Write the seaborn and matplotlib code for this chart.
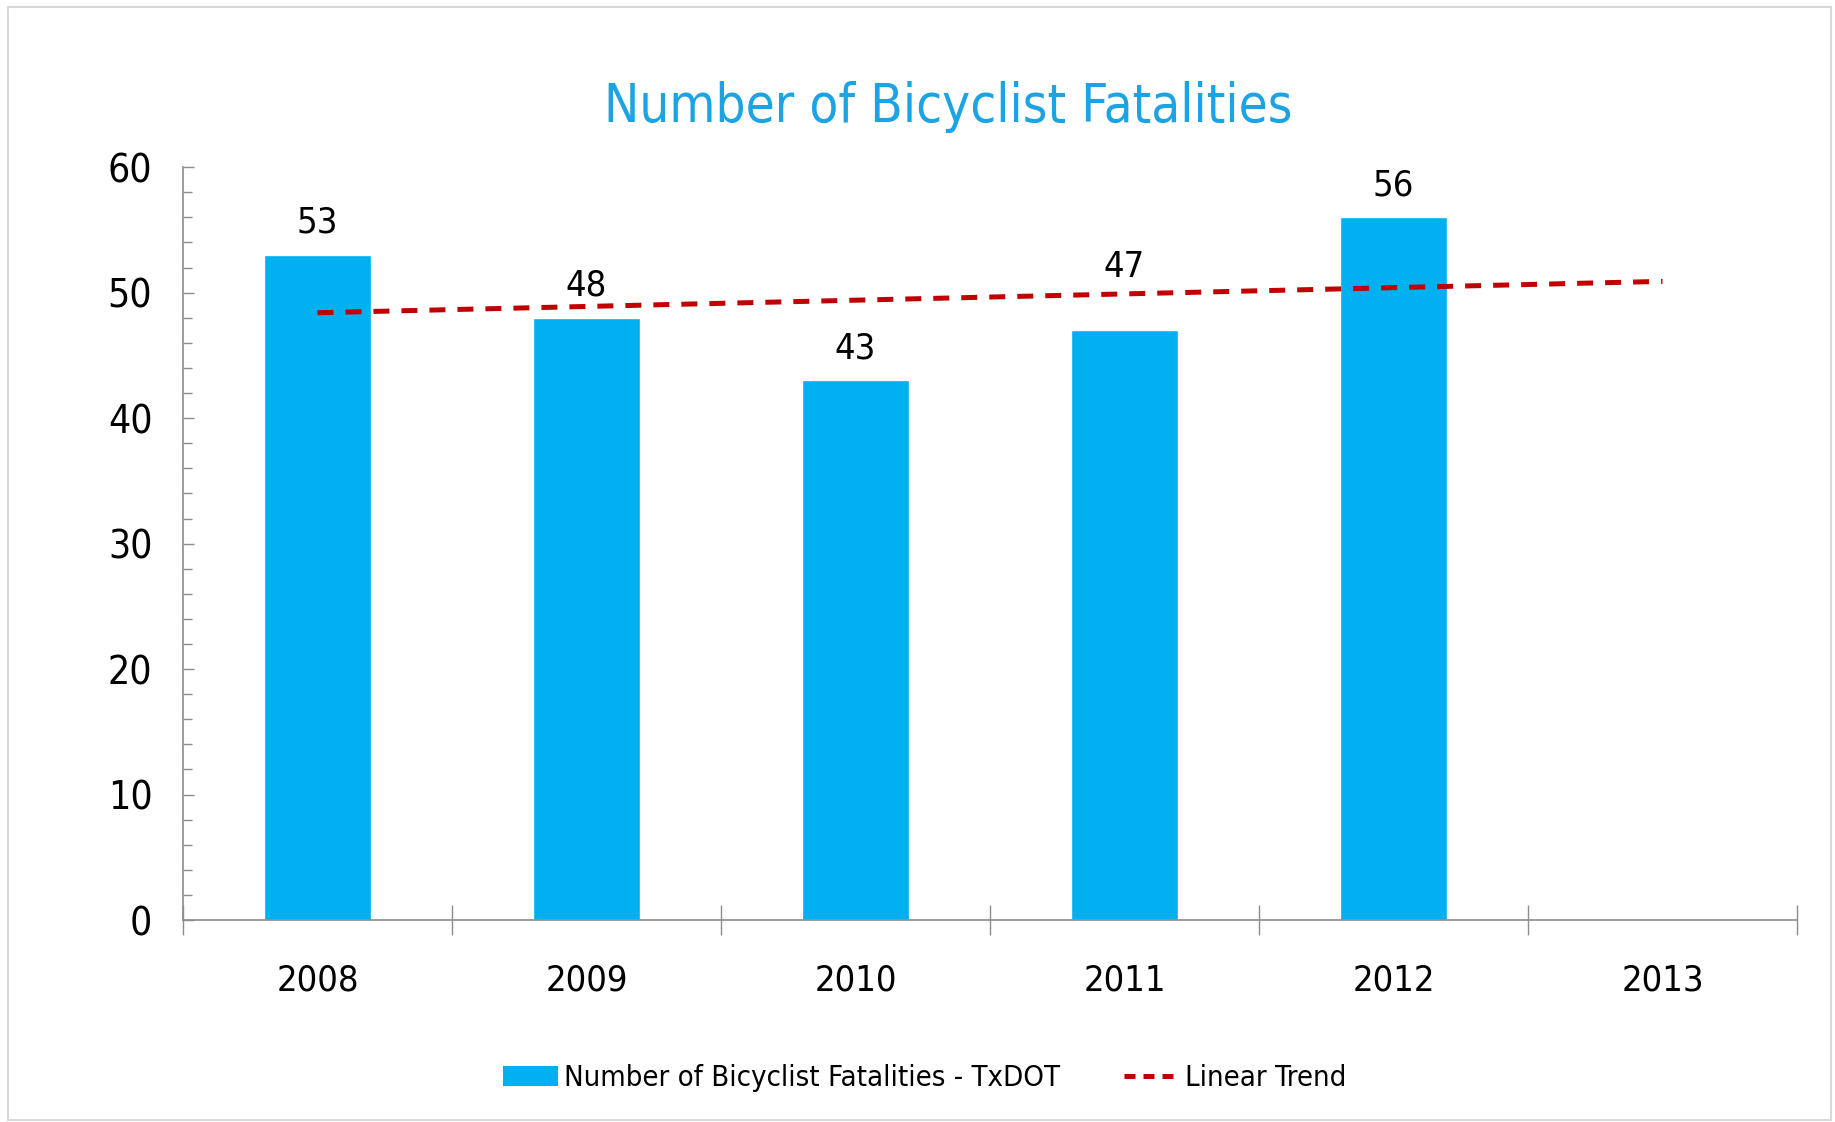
import numpy as np
import pandas as pd
import matplotlib
matplotlib.use("Agg")
import matplotlib.pyplot as plt
import seaborn as sns
from matplotlib.patches import Rectangle, Patch
from matplotlib.lines import Line2D
from matplotlib.ticker import MultipleLocator, FixedLocator

years = ["2008", "2009", "2010", "2011", "2012", "2013"]
data_years = ["2008", "2009", "2010", "2011", "2012"]
fatalities = [53, 48, 43, 47, 56]
label_pad = [11, 11, 11, 33, 11]  # 2011 label sits above the trend line

bar_name = "Number of Bicyclist Fatalities - TxDOT"
trend_name = "Linear Trend"
title = "Number of Bicyclist Fatalities"

bar_color = "#00B0F0"
title_color = "#1BA3E3"
trend_color = "#C00000"
axis_color = "#8C8C8C"

sns.set_style("white")
plt.rcParams["font.family"] = ["DejaVu Sans"]
plt.rcParams["font.stretch"] = "condensed"
plt.rcParams["text.color"] = "black"

df = pd.DataFrame({"year": data_years, "fatalities": fatalities})

fig = plt.figure(figsize=(18.35, 11.22), dpi=100)
ax = fig.add_axes([0.0997, 0.180, 0.8796, 0.671])

sns.barplot(data=df, x="year", y="fatalities", order=years, color=bar_color,
            saturation=1, width=0.4, ax=ax)

# linear trend fitted to the yearly values, extended one year
xs = np.arange(len(data_years))
slope, intercept = np.polyfit(xs, fatalities, 1)
tx = np.arange(len(years))
ax.plot(tx, intercept + slope * tx, color=trend_color, lw=3.6,
        linestyle=(0, (3.2, 2.4)))

for bar, v, p in zip(ax.patches, fatalities, label_pad):
    ax.annotate(str(v), (bar.get_x() + bar.get_width() / 2, bar.get_height()),
                xytext=(0, p), textcoords="offset points",
                ha="center", va="bottom", fontsize=26, color="black")

ax.set_xlim(-0.5, len(years) - 0.5)
ax.set_ylim(0, 60)
ax.yaxis.set_major_locator(MultipleLocator(10))
ax.yaxis.set_minor_locator(MultipleLocator(2))
ax.xaxis.set_major_locator(FixedLocator(np.arange(len(years))))
ax.xaxis.set_minor_locator(FixedLocator(np.arange(len(years) + 1) - 0.5))
ax.set_xticklabels(years)

ax.tick_params(axis="y", which="major", direction="in", length=8, width=1,
               color=axis_color, labelcolor="black", labelsize=28, pad=22, left=True)
ax.tick_params(axis="y", which="minor", direction="in", length=6.5, width=1,
               color=axis_color, left=True)
ax.tick_params(axis="x", which="major", length=0, labelsize=26, pad=31,
               labelcolor="black")
ax.tick_params(axis="x", which="minor", direction="inout", length=22, width=1,
               color=axis_color, bottom=True)

for s in ["top", "right"]:
    ax.spines[s].set_visible(False)
for s in ["left", "bottom"]:
    ax.spines[s].set_color(axis_color)
    ax.spines[s].set_linewidth(1.2)
ax.set_xlabel("")
ax.set_ylabel("")

fig.text(0.517, 0.905, title, ha="center", va="center", fontsize=38,
         color=title_color)

handles = [Patch(facecolor=bar_color, edgecolor="none"),
           Line2D([0], [0], color=trend_color, lw=3.6, linestyle=(0, (2.2, 1.6)))]
fig.legend(handles, [bar_name, trend_name], loc="center", ncol=2,
           bbox_to_anchor=(0.504, 0.039), frameon=False, fontsize=21,
           handlelength=1.9, handletextpad=0.2, columnspacing=2.2)

fig.patches.append(Rectangle((0.0045, 0.002), 0.9935, 0.992, transform=fig.transFigure,
                             fill=False, edgecolor="#D9D9D9", lw=1.5))

fig.savefig("out.png", dpi=100, facecolor="white")
